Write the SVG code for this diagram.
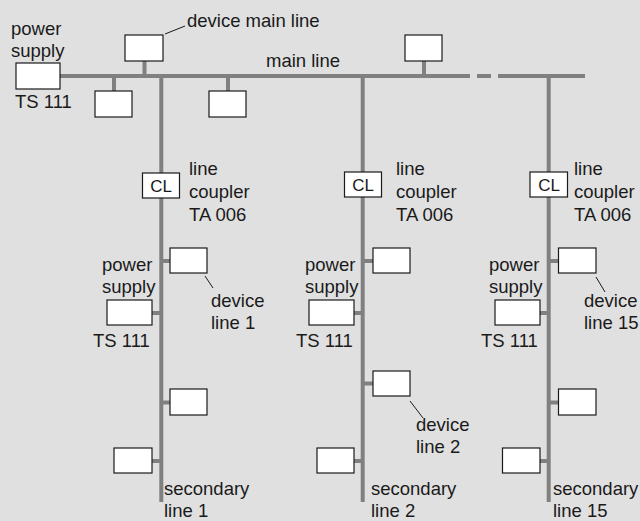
<svg xmlns="http://www.w3.org/2000/svg" width="640" height="521" viewBox="0 0 640 521">
<style>
.bus{stroke:#808080;stroke-width:4;fill:none}
.stub{stroke:#808080;stroke-width:4;fill:none}
.box{fill:#ffffff;stroke:#1a1a1a;stroke-width:1.2}
.lead{stroke:#1a1a1a;stroke-width:1;fill:none}
text{font-family:"Liberation Sans",Arial,sans-serif;font-size:18.5px;fill:#1a1a1a}
.c{text-anchor:middle;font-size:17px}
</style>
<rect x="0" y="0" width="640" height="521" fill="#e0e0e0"/>
<g id="connectors">
<line class="bus" x1="60" y1="76" x2="470" y2="76"/>
<line class="bus" x1="477" y1="76" x2="491" y2="76"/>
<line class="bus" x1="498" y1="76" x2="585" y2="76"/>
<line class="bus" x1="161.3" y1="76" x2="161.3" y2="502"/>
<line class="bus" x1="362.7" y1="76" x2="362.7" y2="502"/>
<line class="bus" x1="548.7" y1="76" x2="548.7" y2="502"/>
<line class="stub" x1="144.5" y1="61" x2="144.5" y2="76"/>
<line class="stub" x1="114" y1="76" x2="114" y2="91"/>
<line class="stub" x1="228" y1="76" x2="228" y2="91"/>
<line class="stub" x1="424" y1="61" x2="424" y2="76"/>
<line class="stub" x1="161" y1="261" x2="170" y2="261"/>
<line class="stub" x1="152" y1="313" x2="161" y2="313"/>
<line class="stub" x1="161" y1="402.5" x2="170" y2="402.5"/>
<line class="stub" x1="152" y1="461" x2="161" y2="461"/>
<line class="stub" x1="363" y1="261" x2="373" y2="261"/>
<line class="stub" x1="354" y1="313" x2="363" y2="313"/>
<line class="stub" x1="363" y1="383.5" x2="373" y2="383.5"/>
<line class="stub" x1="354" y1="461" x2="363" y2="461"/>
<line class="stub" x1="549" y1="261" x2="558" y2="261"/>
<line class="stub" x1="540" y1="313" x2="549" y2="313"/>
<line class="stub" x1="549" y1="402.5" x2="558" y2="402.5"/>
<line class="stub" x1="540" y1="461" x2="549" y2="461"/>
<line class="lead" x1="165" y1="34" x2="185" y2="26"/>
<line class="lead" x1="205" y1="276" x2="213" y2="288"/>
<line class="lead" x1="410" y1="401" x2="423" y2="418"/>
<line class="lead" x1="596" y1="277" x2="605" y2="292"/>
</g>
<g id="ps-main">
<rect class="box" x="16" y="63" width="44" height="26"/>
<text x="11" y="35">power</text>
<text x="11" y="57">supply</text>
<text x="15" y="108">TS 111</text>
</g>
<g id="dev-main-1"><rect class="box" x="125" y="35" width="38" height="26"/>
<text x="187" y="27">device main line</text></g>
<g id="dev-main-2"><rect class="box" x="95" y="91" width="37" height="26"/></g>
<g id="dev-main-3"><rect class="box" x="209" y="91" width="37" height="26"/></g>
<g id="dev-main-4"><rect class="box" x="405" y="35" width="37" height="26"/></g>
<g id="label-main"><text x="266" y="67">main line</text></g>

<g id="cl-1"><rect class="box" x="142.5" y="173" width="37" height="25"/>
<text class="c" x="161" y="192">CL</text>
<text x="189" y="175">line</text><text x="189" y="198">coupler</text><text x="189" y="221">TA 006</text></g>
<g id="dev-1a"><rect class="box" x="170" y="248" width="37" height="25"/>
<text x="211" y="307">device</text><text x="211" y="329">line 1</text></g>
<g id="ps-1"><rect class="box" x="107" y="300" width="45" height="25"/>
<text x="102" y="271">power</text><text x="102" y="293">supply</text><text x="93" y="347">TS 111</text></g>
<g id="dev-1b"><rect class="box" x="170" y="389" width="37" height="26"/></g>
<g id="dev-1c"><rect class="box" x="114" y="448" width="38" height="25"/></g>
<g id="label-sec1"><text x="164" y="495">secondary</text><text x="164" y="517">line 1</text></g>

<g id="cl-2"><rect class="box" x="344.5" y="172" width="37" height="25"/>
<text class="c" x="363" y="191">CL</text>
<text x="396" y="175">line</text><text x="396" y="198">coupler</text><text x="396" y="221">TA 006</text></g>
<g id="dev-2a"><rect class="box" x="373" y="248" width="37" height="25"/></g>
<g id="ps-2"><rect class="box" x="309" y="300" width="45" height="25"/>
<text x="305" y="271">power</text><text x="305" y="293">supply</text><text x="296" y="347">TS 111</text></g>
<g id="dev-2b"><rect class="box" x="373" y="371" width="37" height="25"/>
<text x="416" y="431">device</text><text x="416" y="453">line 2</text></g>
<g id="dev-2c"><rect class="box" x="317" y="448" width="37" height="25"/></g>
<g id="label-sec2"><text x="371" y="495">secondary</text><text x="371" y="517">line 2</text></g>

<g id="cl-3"><rect class="box" x="530" y="172" width="37.5" height="25"/>
<text class="c" x="549" y="191">CL</text>
<text x="574" y="175">line</text><text x="574" y="198">coupler</text><text x="574" y="221">TA 006</text></g>
<g id="dev-3a"><rect class="box" x="558.5" y="248" width="37.5" height="25"/>
<text x="584" y="307">device</text><text x="584" y="329">line 15</text></g>
<g id="ps-3"><rect class="box" x="495" y="300" width="45" height="25"/>
<text x="489" y="271">power</text><text x="489" y="293">supply</text><text x="481" y="347">TS 111</text></g>
<g id="dev-3b"><rect class="box" x="558.5" y="389" width="37.5" height="26"/></g>
<g id="dev-3c"><rect class="box" x="502.5" y="448" width="37.5" height="25"/></g>
<g id="label-sec3"><text x="553" y="495">secondary</text><text x="553" y="517">line 15</text></g>
</svg>
